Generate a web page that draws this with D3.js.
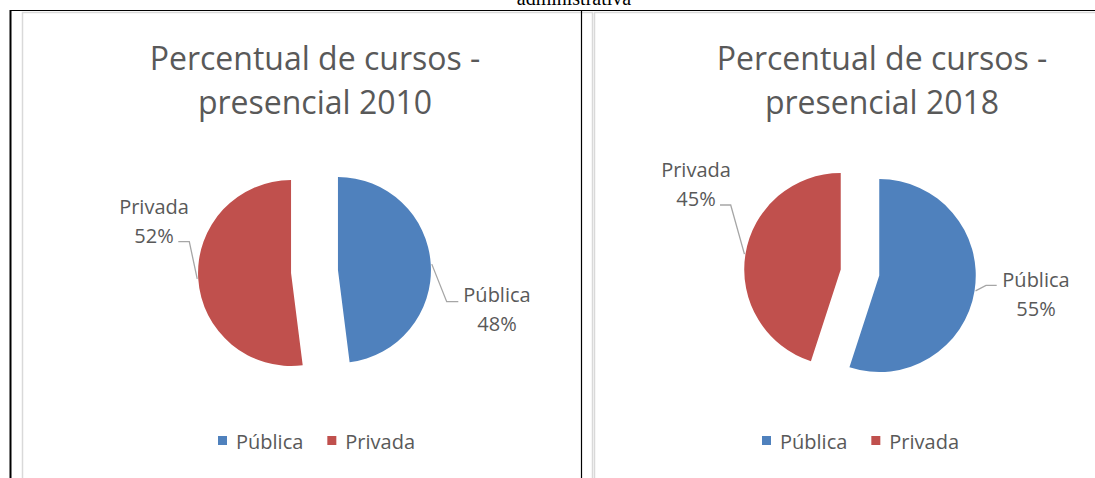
<!DOCTYPE html>
<html>
<head>
<meta charset="utf-8">
<script src="https://cdn.jsdelivr.net/npm/d3@7"></script>
<style>
  body { margin: 0; background: #fff; }
  svg { display: block; }
  text { font-family: "Open Sans", "Noto Sans", sans-serif; fill: #595959; }
</style>
</head>
<body>
<div id="chart"></div>
<script>
// Data
var categories = ["Pública", "Privada"];
var colors = ["#4f81bd", "#c0504d"];
var values2010 = [48, 52];
var values2018 = [55, 45];
var titles2010 = ["Percentual de cursos -", "presencial 2010"];
var titles2018 = ["Percentual de cursos -", "presencial 2018"];

var W = 1095, H = 478;

var svg = d3.select("#chart")
    .append("svg")
    .attr("width", W)
    .attr("height", H);

// caption cut off at the top of the page
svg.append("text")
    .attr("x", 574)
    .attr("y", 5)
    .attr("text-anchor", "middle")
    .style("font-family", "'Liberation Serif', 'DejaVu Serif', serif")
    .style("font-size", "20px")
    .style("fill", "#000")
    .text("administrativa");

// chart areas (light gray frame)
svg.append("rect")
    .attr("x", 22.5).attr("y", 12.5)
    .attr("width", 570).attr("height", 480)
    .attr("fill", "#fff").attr("stroke", "#d9d9d9").attr("stroke-width", 1.5);
svg.append("rect")
    .attr("x", 594.5).attr("y", 12.5)
    .attr("width", 520).attr("height", 480)
    .attr("fill", "#fff").attr("stroke", "#d9d9d9").attr("stroke-width", 1.5);

// table borders
svg.append("line").attr("x1", 10).attr("x2", W).attr("y1", 10.5).attr("y2", 10.5)
    .attr("stroke", "#000").attr("stroke-width", 1.2);
svg.append("line").attr("x1", 10.5).attr("x2", 10.5).attr("y1", 10).attr("y2", H)
    .attr("stroke", "#000").attr("stroke-width", 2);
svg.append("line").attr("x1", 581.5).attr("x2", 581.5).attr("y1", 10).attr("y2", H)
    .attr("stroke", "#000").attr("stroke-width", 1.2);

function drawPie(opt) {
    var g = svg.append("g");

    // title
    g.selectAll(".title")
        .data(opt.titles)
        .enter()
        .append("text")
        .attr("class", "title")
        .attr("x", opt.titleX)
        .attr("y", function (d, i) { return opt.titleY + i * 44; })
        .attr("text-anchor", "middle")
        .style("font-size", "32px")
        .text(function (d) { return d; });

    var pie = d3.pie().sort(null).value(function (d) { return d; });
    var arcs = pie(opt.values);
    var arc = d3.arc().innerRadius(0).outerRadius(opt.r);

    function offset(d, dist) {
        var a = (d.startAngle + d.endAngle) / 2;
        return [Math.sin(a) * dist, -Math.cos(a) * dist];
    }

    var slices = g.append("g")
        .attr("transform", "translate(" + opt.cx + "," + opt.cy + ")");

    slices.selectAll("path")
        .data(arcs)
        .enter()
        .append("path")
        .attr("d", arc)
        .attr("fill", function (d, i) { return colors[i]; })
        .attr("transform", function (d) {
            var o = offset(d, opt.explode);
            return "translate(" + o[0] + "," + o[1] + ")";
        });

    // data labels with leader lines
    arcs.forEach(function (d, i) {
        var o = offset(d, opt.explode + opt.r + 1);
        var lab = opt.labels[i];
        var start = [opt.cx + o[0], opt.cy + o[1]];
        g.append("polyline")
            .attr("points", [start, lab.elbow, lab.end].map(function (p) { return p.join(","); }).join(" "))
            .attr("fill", "none")
            .attr("stroke", "#a6a6a6")
            .attr("stroke-width", 1.3);

        g.append("text")
            .attr("x", lab.x)
            .attr("y", lab.y)
            .attr("text-anchor", "middle")
            .style("font-size", "20px")
            .text(categories[i]);
        g.append("text")
            .attr("x", lab.x)
            .attr("y", lab.y + 29)
            .attr("text-anchor", "middle")
            .style("font-size", "20px")
            .text(d.data + "%");
    });

    // legend
    var lx = opt.legendX;
    categories.forEach(function (c, i) {
        g.append("rect")
            .attr("x", lx)
            .attr("y", opt.legendY - 13)
            .attr("width", 9)
            .attr("height", 9)
            .attr("fill", colors[i]);
        var t = g.append("text")
            .attr("x", lx + 18)
            .attr("y", opt.legendY)
            .style("font-size", "20px")
            .text(c);
        lx = lx + 18 + t.node().getComputedTextLength() + 24;
    });
}

drawPie({
    values: values2010, titles: titles2010,
    titleX: 315, titleY: 70,
    cx: 314.5, cy: 271.5, r: 93, explode: 23.5,
    labels: [
        { x: 497, y: 302, elbow: [446.7, 301.7], end: [458.3, 301.7] },
        { x: 154, y: 214, elbow: [189.3, 241.7], end: [178.3, 241.7] }
    ],
    legendX: 218, legendY: 449
});

drawPie({
    values: values2018, titles: titles2018,
    titleX: 882, titleY: 70,
    cx: 860, cy: 272.5, r: 96.5, explode: 19.5,
    labels: [
        { x: 1036, y: 287, elbow: [986, 285.3], end: [996.7, 285.3] },
        { x: 696, y: 177, elbow: [730.7, 205], end: [720, 205] }
    ],
    legendX: 762, legendY: 449
});
</script>
</body>
</html>
